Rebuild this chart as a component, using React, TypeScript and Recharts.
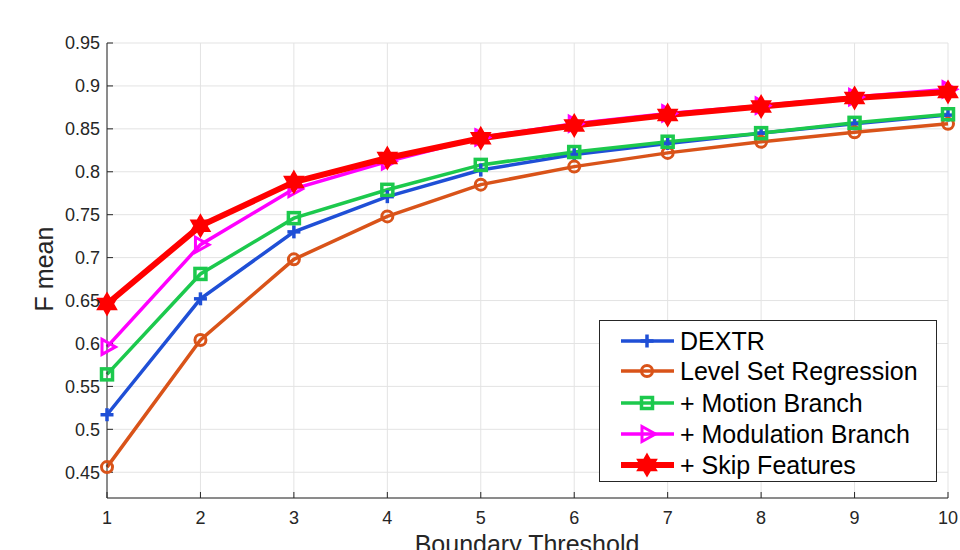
import { CartesianGrid, Legend, Line, LineChart, XAxis, YAxis } from "recharts"

const thresholds = [1, 2, 3, 4, 5, 6, 7, 8, 9, 10]
const dextr = [0.517, 0.652, 0.73, 0.771, 0.802, 0.82, 0.833, 0.845, 0.856, 0.866]
const levelSet = [0.456, 0.604, 0.698, 0.748, 0.785, 0.806, 0.822, 0.835, 0.846, 0.856]
const motion = [0.564, 0.681, 0.746, 0.779, 0.808, 0.823, 0.835, 0.845, 0.857, 0.867]
const modulation = [0.596, 0.715, 0.78, 0.812, 0.84, 0.856, 0.868, 0.877, 0.887, 0.896]
const skip = [0.646, 0.737, 0.788, 0.816, 0.839, 0.854, 0.866, 0.876, 0.886, 0.893]
const yTicks = [0.45, 0.5, 0.55, 0.6, 0.65, 0.7, 0.75, 0.8, 0.85, 0.9, 0.95]

const data = thresholds.map((t, i) => ({
  t,
  dextr: dextr[i],
  levelSet: levelSet[i],
  motion: motion[i],
  modulation: modulation[i],
  skip: skip[i],
}))

const FONT = "'Liberation Sans', Arial, Helvetica, sans-serif"
const AXIS = "#262626"

type MarkerKind = "plus" | "circle" | "square" | "triangle" | "hexagram"

const series: { key: string; name: string; color: string; width: number; marker: MarkerKind }[] = [
  { key: "dextr", name: "DEXTR", color: "#1f4fd6", width: 3.5, marker: "plus" },
  { key: "levelSet", name: "Level Set Regression", color: "#d95319", width: 3.5, marker: "circle" },
  { key: "motion", name: "+ Motion Branch", color: "#1cc94d", width: 3.5, marker: "square" },
  { key: "modulation", name: "+ Modulation Branch", color: "#ff00ff", width: 3.5, marker: "triangle" },
  { key: "skip", name: "+ Skip Features", color: "#ff0000", width: 6, marker: "hexagram" },
]

function hexagram(cx: number, cy: number, R: number) {
  const r = R / Math.sqrt(3)
  const pts: string[] = []
  for (let k = 0; k < 12; k++) {
    const a = -Math.PI / 2 + (k * Math.PI) / 6
    const rad = k % 2 === 0 ? R : r
    pts.push(`${cx + rad * Math.cos(a)},${cy + rad * Math.sin(a)}`)
  }
  return pts.join(" ")
}

const Marker = ({ kind, cx, cy, color }: { kind: MarkerKind; cx: number; cy: number; color: string }) => {
  if (kind === "plus")
    return (
      <g stroke={color} strokeWidth={3.5}>
        <line x1={cx - 6.5} y1={cy} x2={cx + 6.5} y2={cy} />
        <line x1={cx} y1={cy - 6.5} x2={cx} y2={cy + 6.5} />
      </g>
    )
  if (kind === "circle") return <circle cx={cx} cy={cy} r={5.5} fill="none" stroke={color} strokeWidth={3} />
  if (kind === "square")
    return <rect x={cx - 5.5} y={cy - 5.5} width={11} height={11} fill="none" stroke={color} strokeWidth={3.5} />
  if (kind === "triangle")
    return (
      <polygon
        points={`${cx - 5},${cy - 7.5} ${cx + 8.5},${cy} ${cx - 5},${cy + 7.5}`}
        fill="none"
        stroke={color}
        strokeWidth={3}
      />
    )
  return <polygon points={hexagram(cx, cy, 11)} fill={color} stroke={color} strokeWidth={1.5} />
}

const LegendBox = () => (
  <div
    style={{
      width: 336,
      height: 160,
      border: `1px solid ${AXIS}`,
      background: "#fff",
      fontFamily: FONT,
      fontSize: 25,
      color: "#000",
      position: "relative",
    }}
  >
    {series.map((s, i) => (
      <div
        key={s.key}
        style={{ position: "absolute", left: 0, top: [20, 50, 82, 113, 144][i] - 16, height: 32, display: "flex", alignItems: "center" }}
      >
        <svg width={80} height={32} style={{ display: "block" }}>
          <line x1={21} y1={16} x2={74} y2={16} stroke={s.color} strokeWidth={s.width} />
          <Marker kind={s.marker} cx={47} cy={16} color={s.color} />
        </svg>
        <span style={{ whiteSpace: "nowrap", lineHeight: "32px" }}>{s.name}</span>
      </div>
    ))}
  </div>
)

export default function App() {
  return (
    <div style={{ position: "absolute", left: 0, top: 0, width: 960, height: 550, background: "#fff", overflow: "hidden" }}>
      <LineChart width={960} height={550} data={data} margin={{ top: 43, right: 12, bottom: 0, left: 0 }}>
        <CartesianGrid stroke="#e3e3e3" strokeWidth={1} />
        <XAxis
          xAxisId="top"
          orientation="top"
          dataKey="t"
          type="number"
          domain={[1, 10]}
          ticks={thresholds}
          height={0}
          stroke={AXIS}
          tickSize={-6}
          tickFormatter={() => ""}
        />
        <YAxis
          yAxisId="right"
          orientation="right"
          type="number"
          domain={[0.42, 0.95]}
          ticks={yTicks}
          width={0}
          stroke={AXIS}
          tickSize={-6}
          tickFormatter={() => ""}
        />
        <XAxis
          dataKey="t"
          type="number"
          domain={[1, 10]}
          ticks={thresholds}
          height={52}
          stroke={AXIS}
          tickSize={-6}
          tickMargin={19}
          tick={{ fill: AXIS, fontSize: 18, fontFamily: FONT }}
          label={{
            content: () => (
              <text x={527} y={553} textAnchor="middle" fontSize={25} fontFamily={FONT} fill={AXIS}>
                Boundary Threshold
              </text>
            ),
          }}
        />
        <YAxis
          type="number"
          domain={[0.42, 0.95]}
          ticks={yTicks}
          width={107}
          stroke={AXIS}
          tickSize={-6}
          tickMargin={13}
          tick={{ fill: AXIS, fontSize: 18, fontFamily: FONT }}
          label={{
            content: () => (
              <text transform="translate(53,269) rotate(-90)" textAnchor="middle" fontSize={25} fontFamily={FONT} fill={AXIS}>
                F mean
              </text>
            ),
          }}
        />
        {series.map((s) => (
          <Line
            key={s.key}
            dataKey={s.key}
            name={s.name}
            stroke={s.color}
            strokeWidth={s.width}
            isAnimationActive={false}
            activeDot={false}
            dot={(p: any) => <Marker key={`${s.key}-${p.index}`} kind={s.marker} cx={p.cx} cy={p.cy} color={s.color} />}
          />
        ))}
        <Legend
          layout="vertical"
          align="center"
          verticalAlign="middle"
          content={() => <LegendBox />}
          wrapperStyle={{ position: "absolute", left: 599, top: 320, width: 338, height: 162 }}
        />
      </LineChart>
    </div>
  )
}
